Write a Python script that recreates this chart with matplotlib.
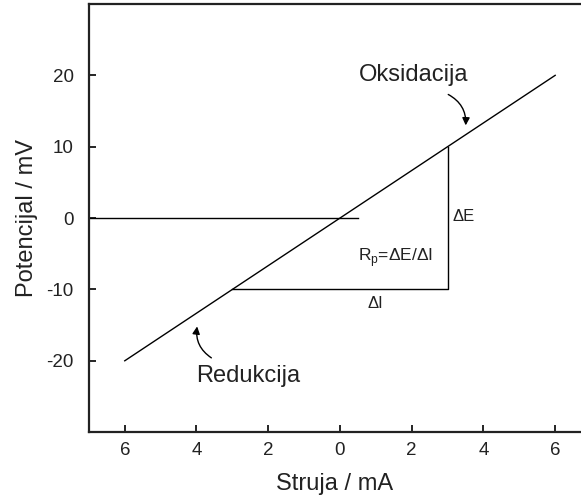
import matplotlib
matplotlib.use("Agg")
import matplotlib.pyplot as plt

plt.rcParams['font.family'] = ['Liberation Sans', 'DejaVu Sans']
plt.rcParams['axes.unicode_minus'] = False

# podaci
struja = [-6, 6]
potencijal = [-20, 20]
nula_x = [-7, 0.5]
nula_y = [0, 0]
trokut_x = [-3, 3, 3]
trokut_y = [-10, -10, 10]
x_ticks = [-6, -4, -2, 0, 2, 4, 6]
x_tick_labels = ["6", "4", "2", "0", "2", "4", "6"]
y_ticks = [-20, -10, 0, 10, 20]

fig = plt.figure(figsize=(5.81, 4.99), dpi=100)
ax = fig.add_axes([0.153, 0.134, 0.847, 0.858])

ax.plot(struja, potencijal, color='black', lw=1.0)
ax.plot(nula_x, nula_y, color='black', lw=1.0)
ax.plot(trokut_x, trokut_y, color='black', lw=1.0)

ax.set_xlim(-7, 6.72)
ax.set_ylim(-30, 30)
ax.set_xticks(x_ticks)
ax.set_xticklabels(x_tick_labels)
ax.set_yticks(y_ticks)
ax.tick_params(direction='in', length=5, width=1.2, labelsize=13.5,
               colors='black', labelcolor='#222222')
ax.tick_params(axis='x', pad=7)
ax.tick_params(axis='y', pad=11)
ax.spines['right'].set_visible(False)
for s in ['left', 'bottom', 'top']:
    ax.spines[s].set_linewidth(1.6)
    ax.spines[s].set_color('#222222')

ax.set_xlabel("Struja / mA", fontsize=17, color='#222222', labelpad=10)
ax.set_ylabel("Potencijal / mV", fontsize=17, color='#222222', labelpad=6)

ax.text(2.04, 20.1, "Oksidacija", fontsize=17, ha='center', va='center', color='#222222')
ax.annotate("", xy=(3.5, 12.6), xytext=(2.95, 17.5),
            arrowprops=dict(arrowstyle='-|>', color='black', lw=1.0,
                            mutation_scale=11, connectionstyle='arc3,rad=-0.35'))

ax.text(-2.57, -22.2, "Redukcija", fontsize=17, ha='center', va='center', color='#222222')
ax.annotate("", xy=(-3.97, -14.8), xytext=(-3.52, -19.8),
            arrowprops=dict(arrowstyle='-|>', color='black', lw=1.0,
                            mutation_scale=11, connectionstyle='arc3,rad=-0.35'))

ax.text(3.13, 0.2, "ΔE", fontsize=12, ha='left', va='center', color='#222222')
ax.text(0.98, -12.0, "ΔI", fontsize=12, ha='center', va='center', color='#222222')
ax.text(1.54, -5.5, r"R$_\mathregular{p}$=ΔE/ΔI", fontsize=12.5, ha='center', va='center',
        color='#222222')

fig.savefig("out.png", dpi=100)
